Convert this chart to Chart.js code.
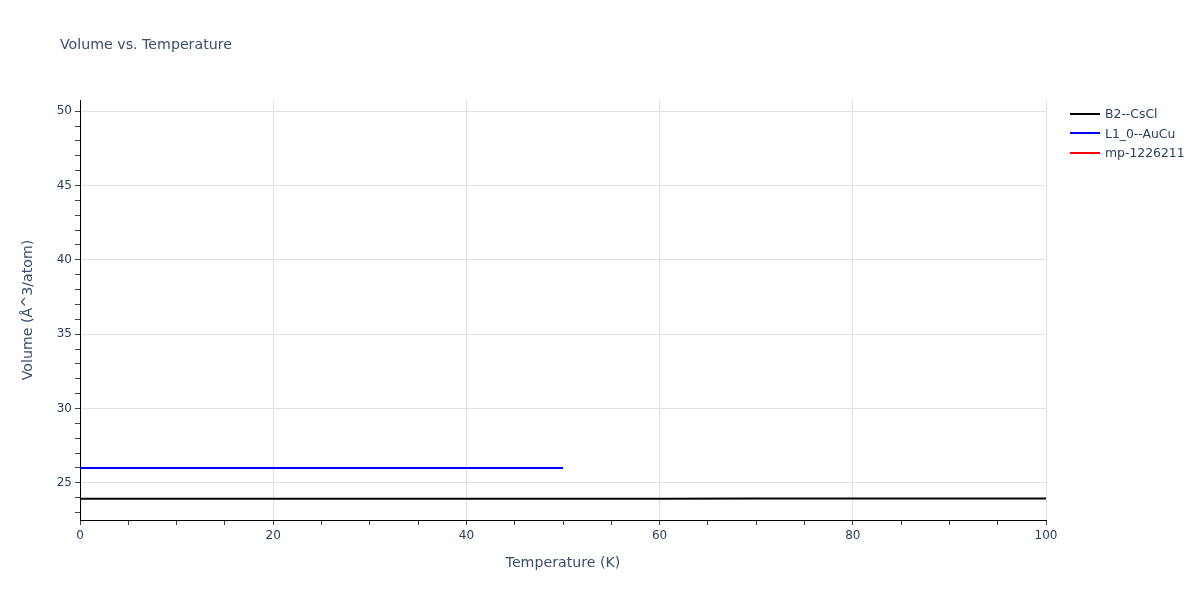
<!DOCTYPE html>
<html>
<head>
<meta charset="utf-8">
<title>Volume vs. Temperature</title>
<script src="https://cdn.jsdelivr.net/npm/chart.js@4.4.1/dist/chart.umd.min.js"></script>
<style>
    body { margin: 0; background: #fff; font-family: 'Open Sans', sans-serif; }
    #wrap { position: relative; width: 1200px; height: 600px; }
    #title { position: absolute; left: 60px; top: 36px; font-family: 'DejaVu Sans', sans-serif; font-size: 14.2px; color: #3b4d6e; }
    #legend { position: absolute; left: 1070px; top: 104px; font-family: 'DejaVu Sans', sans-serif; font-size: 12.4px; color: #2a3f5f; }
    .item { display: flex; align-items: center; height: 19.5px; }
    .swatch { width: 30px; height: 2px; margin-right: 5px; }
</style>
</head>
<body>
<div id="wrap">
    <canvas id="chart" width="1200" height="600"></canvas>
    <div id="title">Volume vs. Temperature</div>
    <div id="legend"></div>
</div>
<script>
// series data
const seriesNames = ['B2--CsCl', 'L1_0--AuCu', 'mp-1226211'];
const seriesColors = ['#000000', '#0000ff', '#ff0000'];

const tempB2 = [0, 10, 20, 30, 40, 50, 60, 70, 80, 90, 100];
const volB2 = [23.925, 23.926, 23.927, 23.929, 23.931, 23.934, 23.937, 23.940, 23.943, 23.946, 23.95];

const tempL10 = [0, 10, 20, 30, 40, 50];
const volL10 = [25.99, 25.99, 25.99, 25.99, 25.99, 25.99];

const tempMp = [];
const volMp = [];

const xMin = 0, xMax = 100;
const yMin = 22.5, yMax = 50.75;

function points(xs, ys) {
    return xs.map((x, i) => ({ x: x, y: ys[i] }));
}

const tickFont = { family: "'DejaVu Sans', sans-serif", size: 12 };
const titleFont = { family: "'DejaVu Sans', sans-serif", size: 14.2 };
const axisColor = '#2a3f5f';

const datasets = [
    points(tempB2, volB2),
    points(tempL10, volL10),
    points(tempMp, volMp)
].map((d, i) => ({
    label: seriesNames[i],
    data: d,
    borderColor: seriesColors[i],
    backgroundColor: seriesColors[i],
    borderWidth: 2,
    pointRadius: 0,
    tension: 0
}));

new Chart(document.getElementById('chart'), {
    type: 'line',
    data: { datasets: datasets },
    options: {
        responsive: false,
        devicePixelRatio: 1,
        animation: false,
        layout: { padding: { left: 0, right: 154, top: 100, bottom: 0 } },
        plugins: {
            legend: { display: false },
            tooltip: { enabled: false }
        },
        scales: {
            x: {
                type: 'linear',
                min: xMin,
                max: xMax,
                afterFit: s => { s.height = 80; },
                ticks: {
                    stepSize: 5,
                    autoSkip: false,
                    maxRotation: 0,
                    padding: 4,
                    font: tickFont,
                    color: axisColor,
                    callback: v => (v % 20 === 0 ? v : '')
                },
                grid: {
                    color: c => (c.tick && c.tick.value % 20 === 0 && c.tick.value > 0 ? '#e2e2e2' : 'rgba(0,0,0,0)'),
                    tickColor: '#444',
                    tickLength: 5,
                    lineWidth: 1
                },
                border: { display: true, color: '#000', width: 1 },
                title: {
                    display: true,
                    text: 'Temperature (K)',
                    color: '#3b4d6e',
                    font: titleFont,
                    padding: { top: 0, bottom: 28.5 }
                }
            },
            y: {
                min: yMin,
                max: yMax,
                afterFit: s => { s.width = 80; },
                ticks: {
                    stepSize: 1,
                    includeBounds: false,
                    autoSkip: false,
                    padding: 3,
                    font: tickFont,
                    color: axisColor,
                    callback: v => (v % 5 === 0 ? v : '')
                },
                grid: {
                    color: c => (c.tick && c.tick.value % 5 === 0 ? '#e2e2e2' : 'rgba(0,0,0,0)'),
                    tickColor: '#444',
                    tickLength: 5,
                    lineWidth: 1
                },
                border: { display: true, color: '#000', width: 1 },
                title: {
                    display: true,
                    text: 'Volume (Å^3/atom)',
                    color: '#3b4d6e',
                    font: titleFont,
                    padding: { top: 19.5, bottom: 0 }
                }
            }
        }
    }
});

// legend built from the series names and colours
const legend = document.getElementById('legend');
seriesNames.forEach((name, i) => {
    const item = document.createElement('div');
    item.className = 'item';
    const sw = document.createElement('div');
    sw.className = 'swatch';
    sw.style.background = seriesColors[i];
    const txt = document.createElement('span');
    txt.textContent = name;
    item.appendChild(sw);
    item.appendChild(txt);
    legend.appendChild(item);
});
</script>
</body>
</html>
